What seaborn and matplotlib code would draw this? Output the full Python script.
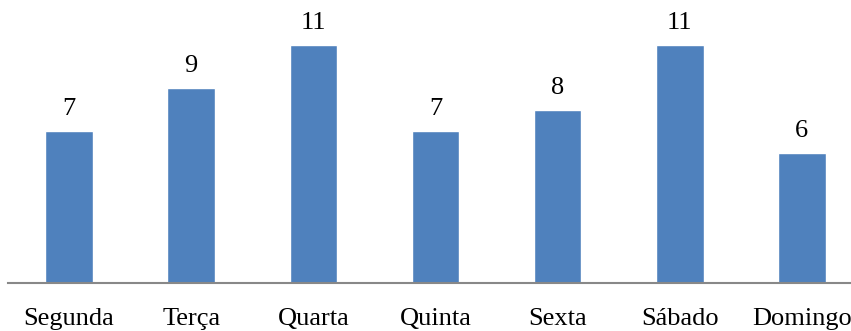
import matplotlib
matplotlib.use("Agg")
import matplotlib.pyplot as plt
import seaborn as sns
import pandas as pd

days = ["Segunda", "Terça", "Quarta", "Quinta", "Sexta", "Sábado", "Domingo"]
counts = [7, 9, 11, 7, 8, 11, 6]

df = pd.DataFrame({"dia": days, "n": counts})

sns.set_style("white")
plt.rcParams["font.family"] = ["Liberation Serif", "DejaVu Serif"]
plt.rcParams["text.color"] = "black"

fig = plt.figure(figsize=(8.51, 3.31), dpi=100)
ax = fig.add_axes([8/851, 48/331, 855/851, 260/331])
sns.barplot(data=df, x="dia", y="n", color="#4F81BD", saturation=1, width=0.39, ax=ax)

ax.set_ylim(0, 12)
ax.set_xlim(-0.5, len(days) - 0.5)
ax.set_xlabel("")
ax.set_ylabel("")
ax.set_yticks([])
for s in ["top", "right", "left"]:
    ax.spines[s].set_visible(False)
ax.spines["bottom"].set_color("#888888")
ax.spines["bottom"].set_linewidth(1.5)
ax.tick_params(axis="x", length=0, pad=18, labelsize=19, colors="black")

for c in ax.containers:
    ax.bar_label(c, labels=[str(v) for v in counts], padding=8, fontsize=19, color="black")

fig.savefig("out.png", dpi=100)
